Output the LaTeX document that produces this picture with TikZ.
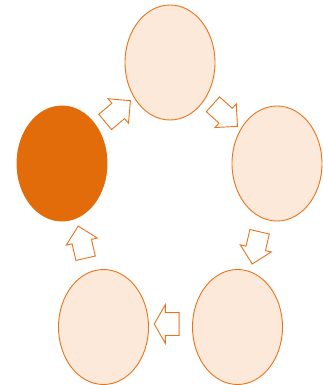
\documentclass[tikz,border=0pt]{standalone}
\usetikzlibrary{shapes.geometric,shapes.arrows}
\definecolor{darkorange}{HTML}{E36C0A}
\definecolor{lightpeach}{HTML}{FDE9D9}
\definecolor{edgeorange}{HTML}{E8731A}
\tikzset{
  oval/.style={ellipse, minimum width=90pt, minimum height=115pt, inner sep=0pt, line width=0.9pt},
  lightoval/.style={oval, draw=edgeorange, fill=lightpeach},
  darkoval/.style={oval, draw=darkorange, fill=darkorange},
  blockarrow/.style={single arrow, draw=edgeorange, fill=white, line width=0.9pt, inner xsep=0pt, outer sep=0pt},
  smallarrow/.style={blockarrow, minimum height=33pt, minimum width=31pt, inner ysep=9.5pt, single arrow head extend=6pt, single arrow tip angle=90},
  widearrow/.style={blockarrow, minimum height=25pt, minimum width=38pt, inner ysep=11pt, single arrow head extend=8pt, single arrow tip angle=120}
}
\begin{document}
\begin{tikzpicture}[x=1pt,y=-1pt]
\useasboundingbox (0,0) rectangle (323,385);
\node[lightoval] (t) at (170,62.5) {};
\node[lightoval] (r) at (277,163.5) {};
\node[lightoval] (br) at (237.5,327) {};
\node[lightoval] (bl) at (103.5,327) {};
\node[darkoval] (l) at (62,163.5) {};
\node[smallarrow, rotate=40] (a1) at (114,114.5) {};
\node[smallarrow, rotate=-42] (a2) at (221.5,112) {};
\node[smallarrow, rotate=-103] (a3) at (257,243) {};
\node[widearrow, rotate=180] (a4) at (170,324) {};
\node[smallarrow, rotate=103] (a5) at (83,247) {};
\end{tikzpicture}
\end{document}
